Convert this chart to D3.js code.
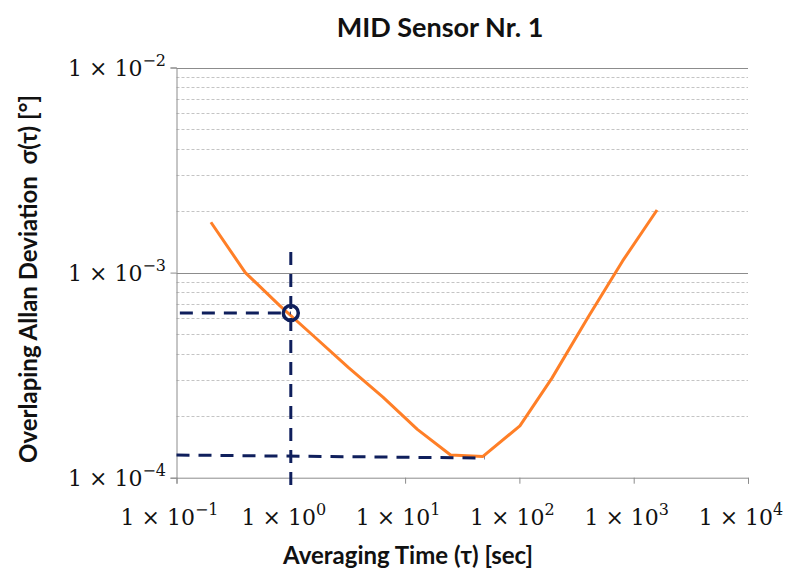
<!DOCTYPE html>
<html>
<head>
<meta charset="utf-8">
<script src="https://cdn.jsdelivr.net/npm/d3@7"></script>
<style>
  body { margin: 0; background: #fff; }
  svg { display: block; }
</style>
</head>
<body>
<div id="chart"></div>
<script>
// averaging time tau [s] and overlapping Allan deviation [deg]
var tau = [0.2, 0.4, 0.8, 1.6, 3.2, 6.4, 12.8, 25, 48, 101, 192, 400, 800, 1600];
var adev = [1.76e-3, 1.0e-3, 6.9e-4, 4.88e-4, 3.44e-4, 2.47e-4, 1.72e-4, 1.29e-4, 1.27e-4, 1.79e-4, 3.05e-4, 6.08e-4, 1.14e-3, 2.02e-3];

// guide lines (dashed navy) and the marked point
var markTau = [1];
var markAdev = [6.35e-4];
var guideH1 = [[0.107, 6.35e-4], [1, 6.35e-4]];
var guideV = [[1, 1.26e-3], [1, 9.1e-5]];
var guideH2 = [[0.1, 1.29e-4], [50, 1.247e-4]];

var xTicks = [0.1, 1, 10, 100, 1000, 10000];
var xExp = ['\u22121', '0', '1', '2', '3', '4'];
var yTicks = [1e-4, 1e-3, 1e-2];
var yExp = ['\u22124', '\u22123', '\u22122'];

var width = 786, height = 568;
var plotLeft = 176.5, plotRight = 748, plotTop = 67.5, plotBottom = 477.7;

var svg = d3.select('#chart').append('svg').attr('width', width).attr('height', height);

var x = d3.scaleLog().domain([0.1, 10000]).range([plotLeft, plotRight]);
var y = d3.scaleLog().domain([1e-4, 1e-2]).range([plotBottom, plotTop]);

// minor gridlines
var minor = [];
[1e-4, 1e-3].forEach(function(d) {
  d3.range(2, 10).forEach(function(k) { minor.push(d * k); });
});
svg.append('g').selectAll('line').data(minor).enter().append('line')
  .attr('x1', plotLeft).attr('x2', plotRight)
  .attr('y1', function(d) { return Math.round(y(d)) + 0.5; })
  .attr('y2', function(d) { return Math.round(y(d)) + 0.5; })
  .attr('stroke', '#c4c4c4').attr('stroke-width', 1).attr('stroke-dasharray', '3,2');

// major gridlines
svg.append('g').selectAll('line').data([1e-3, 1e-2]).enter().append('line')
  .attr('x1', plotLeft).attr('x2', plotRight)
  .attr('y1', function(d) { return Math.round(y(d)) + 0.5; })
  .attr('y2', function(d) { return Math.round(y(d)) + 0.5; })
  .attr('stroke', '#8c8c8c').attr('stroke-width', 1);

// axes
var xAxis = d3.axisBottom(x).tickValues(xTicks).tickSize(6).tickFormat('');
var gx = svg.append('g').attr('transform', 'translate(0,' + plotBottom + ')').call(xAxis);
var yAxis = d3.axisLeft(y).tickValues(yTicks).tickSize(6).tickFormat('');
var gy = svg.append('g').attr('transform', 'translate(' + plotLeft + ',0)').call(yAxis);
[gx, gy].forEach(function(g) {
  g.select('.domain').attr('stroke', '#8c8c8c');
  g.selectAll('.tick line').attr('stroke', '#8c8c8c');
});

var labelFont = '"DejaVu Serif", "Liberation Serif", serif';

function sciLabel(sel, exp) {
  sel.append('tspan').text('1 \u00d7 10');
  sel.append('tspan').attr('dy', -10).attr('font-size', 16).text(exp);
}

xTicks.forEach(function(t, i) {
  var txt = svg.append('text')
    .attr('x', x(t) - 7).attr('y', 525)
    .attr('text-anchor', 'middle')
    .attr('font-family', labelFont).attr('font-size', 22).attr('fill', '#111');
  sciLabel(txt, xExp[i]);
});

yTicks.forEach(function(t, i) {
  var txt = svg.append('text')
    .attr('x', 166).attr('y', y(t) + 8)
    .attr('text-anchor', 'end')
    .attr('font-family', labelFont).attr('font-size', 22).attr('fill', '#111');
  sciLabel(txt, yExp[i]);
});

// data line
var line = d3.line().x(function(d) { return x(d[0]); }).y(function(d) { return y(d[1]); });
svg.append('path')
  .datum(d3.zip(tau, adev))
  .attr('d', line)
  .attr('fill', 'none')
  .attr('stroke', '#ff7f27')
  .attr('stroke-width', 3)
  .attr('stroke-linejoin', 'round');

// guides
var navy = '#0f1f5c';
[guideH1, guideV, guideH2].forEach(function(g) {
  svg.append('path')
    .datum(g)
    .attr('d', line)
    .attr('fill', 'none')
    .attr('stroke', navy)
    .attr('stroke-width', 3)
    .attr('stroke-dasharray', '13,9');
});

svg.selectAll('circle.mark').data(d3.zip(markTau, markAdev)).enter().append('circle')
  .attr('class', 'mark')
  .attr('cx', function(d) { return x(d[0]); })
  .attr('cy', function(d) { return y(d[1]); })
  .attr('r', 7.5)
  .attr('fill', 'none')
  .attr('stroke', navy)
  .attr('stroke-width', 3.5);

// titles
var titleFont = 'Lato, "Open Sans", sans-serif';
svg.append('text')
  .attr('x', 440).attr('y', 37)
  .attr('text-anchor', 'middle')
  .attr('font-family', titleFont).attr('font-weight', 'bold').attr('font-size', 27)
  .attr('fill', '#111')
  .text('MID Sensor Nr. 1');

svg.append('text')
  .attr('x', 408).attr('y', 564)
  .attr('text-anchor', 'middle')
  .attr('font-family', titleFont).attr('font-weight', 'bold').attr('font-size', 24)
  .attr('fill', '#111')
  .text('Averaging Time (\u03c4) [sec]');

svg.append('text')
  .attr('transform', 'translate(37,279) rotate(-90)')
  .attr('text-anchor', 'middle')
  .attr('font-family', titleFont).attr('font-weight', 'bold').attr('font-size', 24)
  .attr('fill', '#111')
  .attr('xml:space', 'preserve')
  .text('Overlaping Allan Deviation  \u03c3(\u03c4) [\u00b0]');
</script>
</body>
</html>
